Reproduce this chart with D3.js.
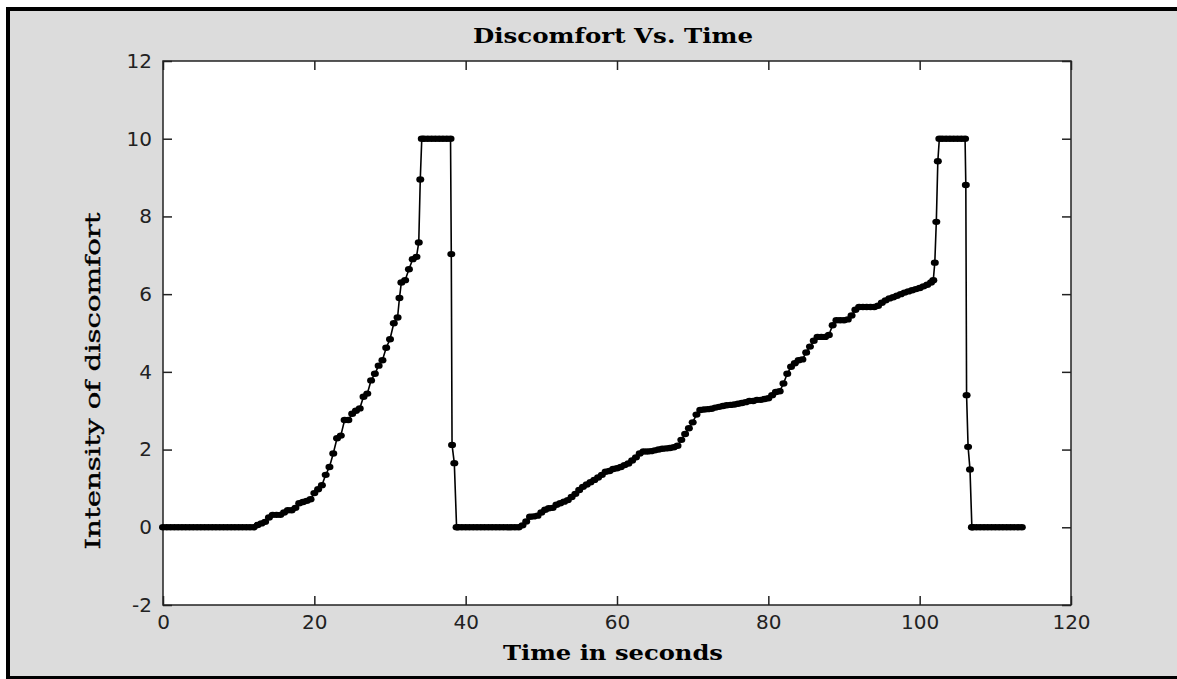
<!DOCTYPE html>
<html>
<head>
<meta charset="utf-8">
<script src="https://cdn.jsdelivr.net/npm/d3@7"></script>
<style>
  body { margin: 0; background: #fff; }
  .tick text { font-family: "DejaVu Sans", sans-serif; font-size: 20px; fill: #222; }
  .tick line { stroke: #222; stroke-width: 1.5; }
  .domain { display: none; }
</style>
</head>
<body>
<div id="chart"></div>
<script>
// readings as [seconds, intensity], split by phase of the session
var rest1 = [[0,0],[0.5,0],[1,0],[1.5,0],[2,0],[2.5,0],[3,0],[3.5,0],[4,0],[4.5,0],[5,0],[5.5,0],[6,0],[6.5,0],[7,0],[7.5,0],[8,0],[8.5,0],[9,0],[9.5,0],[10,0],[10.5,0],[11,0],[11.5,0],[12,0]];
var rise1 = [[12.5,0.06],[13,0.1],[13.5,0.14],[14,0.25],[14.5,0.32],[15,0.32],[15.5,0.32],[16,0.38],[16.5,0.44],[17,0.44],
  [17.5,0.5],[18,0.62],[18.5,0.65],[19,0.68],[19.5,0.72],[20,0.88],[20.5,0.98],[21,1.08],[21.5,1.35],[22,1.55],
  [22.5,1.9],[23,2.29],[23.5,2.36],[24,2.76],[24.5,2.76],[25,2.92],[25.5,3.0],[26,3.06],[26.5,3.36],[27,3.44],
  [27.5,3.78],[28,3.95],[28.5,4.16],[29,4.3],[29.5,4.62],[30,4.84],[30.5,5.25],[31,5.4],[31.25,5.9],[31.5,6.3],[32,6.36],
  [32.5,6.64],[33,6.9],[33.5,6.96],[33.8,7.33],[34,8.95],[34.2,10]];
var peak1 = [[34.5,10],[35,10],[35.5,10],[36,10],[36.5,10],[37,10],[37.5,10],[38,10]];
var fall1 = [[38.1,7.03],[38.2,2.12],[38.5,1.65],[38.8,0]];
var rest2 = [[39,0],[39.5,0],[40,0],[40.5,0],[41,0],[41.5,0],[42,0],[42.5,0],[43,0],[43.5,0],[44,0],[44.5,0],[45,0],[45.5,0],[46,0],[46.5,0],[47,0]];
var rise2 = [[47.5,0.05],[48,0.15],[48.5,0.27],[49,0.28],[49.5,0.3],[50,0.38],[50.5,0.45],[51,0.49],[51.5,0.5],[52,0.58],
  [52.5,0.62],[53,0.66],[53.5,0.7],[54,0.78],[54.5,0.86],[55,0.96],[55.5,1.04],[56,1.1],[56.5,1.16],[57,1.22],
  [57.5,1.28],[58,1.35],[58.5,1.43],[59,1.45],[59.5,1.5],[60,1.52],[60.5,1.55],[61,1.6],[61.5,1.64],[62,1.72],
  [62.5,1.8],[63,1.9],[63.5,1.95],[64,1.95],[64.5,1.96],[65,1.98],[65.5,2.0],[66,2.02],[66.5,2.03],[67,2.04],
  [67.5,2.06],[68,2.1],[68.5,2.25],[69,2.4],[69.5,2.55],[70,2.7],[70.5,2.9],[71,3.02],[71.5,3.03],[72,3.04],
  [72.5,3.05],[73,3.08],[73.5,3.1],[74,3.12],[74.5,3.14],[75,3.15],[75.5,3.16],[76,3.18],[76.5,3.2],[77,3.22],
  [77.5,3.25],[78,3.25],[78.5,3.28],[79,3.28],[79.5,3.3],[80,3.32],[80.5,3.4],[81,3.48],[81.5,3.5],[82,3.7],
  [82.5,3.95],[83,4.13],[83.5,4.22],[84,4.3],[84.5,4.32],[85,4.5],[85.5,4.65],[86,4.8],[86.5,4.9],[87,4.9],
  [87.5,4.9],[88,4.95],[88.5,5.2],[89,5.33],[89.5,5.33],[90,5.33],[90.5,5.35],[91,5.45],[91.5,5.6],[92,5.67],
  [92.5,5.67],[93,5.67],[93.5,5.67],[94,5.67],[94.5,5.7],[95,5.78],[95.5,5.84],[96,5.89],[96.5,5.92],[97,5.96],
  [97.5,6.0],[98,6.04],[98.5,6.07],[99,6.1],[99.5,6.13],[100,6.16],[100.5,6.2],[101,6.24],[101.5,6.3],[101.8,6.36],
  [102,6.81],[102.2,7.86],[102.4,9.42],[102.6,10]];
var peak2 = [[103,10],[103.5,10],[104,10],[104.5,10],[105,10],[105.5,10],[106,10]];
var fall2 = [[106.1,8.81],[106.2,3.4],[106.4,2.07],[106.65,1.49],[106.9,0]];
var rest3 = [[107,0],[107.5,0],[108,0],[108.5,0],[109,0],[109.5,0],[110,0],[110.5,0],[111,0],[111.5,0],[112,0],[112.5,0],[113,0],[113.5,0]];

var xTicks = [0, 20, 40, 60, 80, 100, 120];
var yTicks = [-2, 0, 2, 4, 6, 8, 10, 12];

var data = [].concat(rest1, rise1, peak1, fall1, rest2, rise2, peak2, fall2, rest3);

var W = 1177, H = 679;
var plotL = 163, plotR = 1071, plotT = 61, plotB = 605;

var svg = d3.select("#chart").append("svg").attr("width", W).attr("height", H);

// frame
svg.append("rect").attr("x", 6).attr("y", 7).attr("width", 1300).attr("height", 800).attr("fill", "#000");
svg.append("rect").attr("x", 10).attr("y", 11).attr("width", 1300).attr("height", 665).attr("fill", "#dcdcdc");

var x = d3.scaleLinear().domain([0, 120]).range([plotL, plotR]);
var y = d3.scaleLinear().domain([-2, 12]).range([plotB, plotT]);

svg.append("rect").attr("x", plotL).attr("y", plotT).attr("width", plotR - plotL).attr("height", plotB - plotT)
  .attr("fill", "#fff");

// plain hyphen for negatives, like the original
var fmt = function(d) { return String(d); };

svg.append("g").attr("transform", "translate(0," + plotB + ")")
  .call(d3.axisBottom(x).tickValues(xTicks).tickSizeInner(-9).tickSizeOuter(0).tickPadding(10).tickFormat(fmt));
svg.append("g").attr("transform", "translate(0," + plotT + ")")
  .call(d3.axisTop(x).tickValues(xTicks).tickSizeInner(-9).tickSizeOuter(0).tickFormat(""));
svg.append("g").attr("transform", "translate(" + plotL + ",0)")
  .call(d3.axisLeft(y).tickValues(yTicks).tickSizeInner(-9).tickSizeOuter(0).tickPadding(11).tickFormat(fmt));
svg.append("g").attr("transform", "translate(" + plotR + ",0)")
  .call(d3.axisRight(y).tickValues(yTicks).tickSizeInner(-9).tickSizeOuter(0).tickFormat(""));

svg.append("rect").attr("x", plotL).attr("y", plotT).attr("width", plotR - plotL).attr("height", plotB - plotT)
  .attr("fill", "none").attr("stroke", "#222").attr("stroke-width", 1.5);

var line = d3.line().x(function(d) { return x(d[0]); }).y(function(d) { return y(d[1]); });

svg.append("path").datum(data).attr("d", line)
  .attr("fill", "none").attr("stroke", "#000").attr("stroke-width", 1.6);

svg.selectAll("ellipse.pt").data(data).enter().append("ellipse")
  .attr("class", "pt")
  .attr("cx", function(d) { return x(d[0]); })
  .attr("cy", function(d) { return y(d[1]); })
  .attr("rx", 4).attr("ry", 3.2)
  .attr("fill", "#000");

// labels
svg.append("text").attr("x", 613).attr("y", 43).attr("text-anchor", "middle")
  .attr("font-family", "DejaVu Serif").attr("font-weight", "bold").attr("font-size", 20)
  .attr("textLength", 280).attr("lengthAdjust", "spacingAndGlyphs")
  .text("Discomfort Vs. Time");

svg.append("text").attr("x", 613).attr("y", 660).attr("text-anchor", "middle")
  .attr("font-family", "DejaVu Serif").attr("font-weight", "bold").attr("font-size", 21)
  .attr("textLength", 220).attr("lengthAdjust", "spacingAndGlyphs")
  .text("Time in seconds");

svg.append("text").attr("transform", "translate(100,381) rotate(-90)").attr("text-anchor", "middle")
  .attr("font-family", "DejaVu Serif").attr("font-size", 21)
  .attr("stroke", "#000").attr("stroke-width", 0.4)
  .attr("textLength", 337).attr("lengthAdjust", "spacingAndGlyphs")
  .text("Intensity of discomfort");
</script>
</body>
</html>
